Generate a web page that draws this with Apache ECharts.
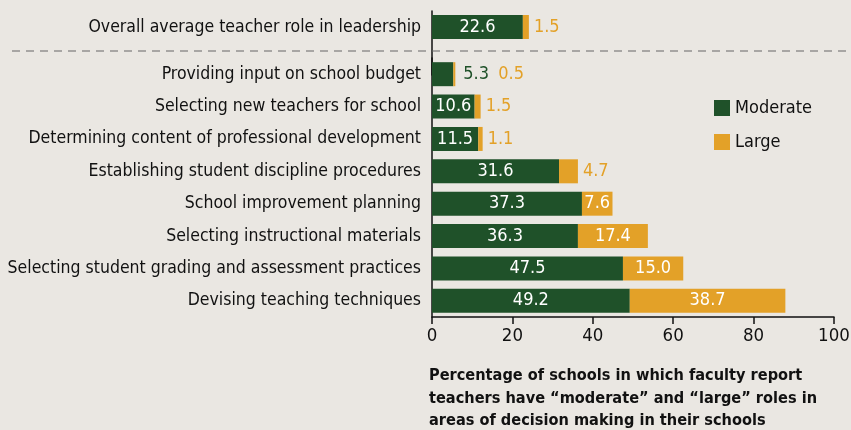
<!DOCTYPE html>
<html>
<head>
<meta charset="utf-8">
<script src="https://cdn.jsdelivr.net/npm/echarts@6/dist/echarts.min.js"></script>
<style>
  html, body { margin: 0; padding: 0; background: #eae7e2; }
  #main { width: 851px; height: 430px; }
</style>
</head>
<body>
<div id="main"></div>
<script>
// overall row (top, above the dashed line)
var topCategory = ['Overall average teacher role in leadership'];
var topModerate = [22.6];
var topLarge = [1.5];

// individual decision areas, top to bottom
var categories = [
    'Providing input on school budget',
    'Selecting new teachers for school',
    'Determining content of professional development',
    'Establishing student discipline procedures',
    'School improvement planning',
    'Selecting instructional materials',
    'Selecting student grading and assessment practices',
    'Devising teaching techniques'
];
var moderate = [5.3, 10.6, 11.5, 31.6, 37.3, 36.3, 47.5, 49.2];
var large = [0.5, 1.5, 1.1, 4.7, 7.6, 17.4, 15.0, 38.7];

var xTicks = [0, 20, 40, 60, 80, 100];

var GREEN = '#1f5129';
var ORANGE = '#e3a128';
var FONT = "'DejaVu Sans Condensed', 'DejaVu Sans', sans-serif";
var PX = 402 / 100;   // pixels per percent point

function fmt(p) { return p.value.toFixed(1); }

// labels sit inside the bar when it is wide enough, otherwise to the right
function modItems(mods, larges) {
    return mods.map(function (v, i) {
        if (v >= 10) {
            return {value: v, label: {show: true, position: 'inside', color: '#fff'}};
        }
        return {value: v, label: {show: true, position: 'right', color: GREEN,
            distance: larges[i] * PX + 8}};
    });
}
function largeItems(mods, larges) {
    return larges.map(function (v, i) {
        if (v >= 7) {
            return {value: v, label: {show: true, position: 'inside', color: '#fff'}};
        }
        var d = mods[i] < 10 ? 43 : 5;
        return {value: v, label: {show: true, position: 'right', color: ORANGE, distance: d}};
    });
}

var myChart = echarts.init(document.getElementById('main'));

var labelStyle = {fontFamily: FONT, fontSize: 18, formatter: fmt};

var option = {
    backgroundColor: '#eae7e2',
    animation: false,
    textStyle: {fontFamily: FONT},
    title: {
        text: 'Percentage of schools in which faculty report\nteachers have \u201cmoderate\u201d and \u201clarge\u201d roles in\nareas of decision making in their schools',
        left: 424,
        top: 360,
        textStyle: {fontFamily: FONT, fontSize: 16.2, fontWeight: 'bold', color: '#111', lineHeight: 22.5}
    },
    legend: {
        data: ['Moderate', 'Large'],
        orient: 'vertical',
        left: 709,
        top: 94,
        itemWidth: 16,
        itemHeight: 16,
        itemGap: 16,
        icon: 'rect',
        textStyle: {fontFamily: FONT, fontSize: 18, color: '#111'}
    },
    grid: [
        {left: 432, width: 402, top: 11, height: 64, outerBoundsMode: 'none'},
        {left: 432, width: 402, top: 58, height: 259, outerBoundsMode: 'none'}
    ],
    xAxis: [
        {gridIndex: 0, type: 'value', min: 0, max: 100, interval: 20, show: false},
        {
            gridIndex: 1, type: 'value', min: 0, max: 100, interval: 20,
            axisLine: {show: true, lineStyle: {color: '#111', width: 1.5}},
            axisTick: {show: true, length: 7, lineStyle: {color: '#111', width: 1.5}},
            axisLabel: {fontFamily: FONT, fontSize: 18.5, color: '#111', margin: 10,
                formatter: function (v) { return xTicks.indexOf(v) >= 0 ? String(v) : ''; }},
            splitLine: {show: false}
        }
    ],
    yAxis: [
        {
            gridIndex: 0, type: 'category', inverse: true,
            data: topCategory.concat(['']),
            axisLine: {show: true, lineStyle: {color: '#111', width: 1.5}},
            axisTick: {show: false},
            axisLabel: {fontFamily: FONT, fontSize: 17.5, color: '#111', margin: 11}
        },
        {
            gridIndex: 1, type: 'category', inverse: true,
            data: categories,
            axisLine: {show: true, lineStyle: {color: '#111', width: 1.5}},
            axisTick: {show: false},
            axisLabel: {fontFamily: FONT, fontSize: 17.5, color: '#111', margin: 11}
        }
    ],
    series: [
        {
            name: 'Moderate', type: 'bar', stack: 'a', xAxisIndex: 0, yAxisIndex: 0,
            barWidth: 24, itemStyle: {color: GREEN},
            label: labelStyle,
            data: modItems(topModerate, topLarge)
        },
        {
            name: 'Large', type: 'bar', stack: 'a', xAxisIndex: 0, yAxisIndex: 0,
            barWidth: 24, itemStyle: {color: ORANGE},
            label: labelStyle,
            data: largeItems(topModerate, topLarge)
        },
        {
            name: 'Moderate', type: 'bar', stack: 'b', xAxisIndex: 1, yAxisIndex: 1,
            barWidth: 24, itemStyle: {color: GREEN},
            label: labelStyle,
            data: modItems(moderate, large)
        },
        {
            name: 'Large', type: 'bar', stack: 'b', xAxisIndex: 1, yAxisIndex: 1,
            barWidth: 24, itemStyle: {color: ORANGE},
            label: labelStyle,
            data: largeItems(moderate, large)
        }
    ],
    graphic: [
        {
            type: 'line',
            shape: {x1: 12, y1: 51, x2: 851, y2: 51},
            style: {stroke: '#666', lineWidth: 1.2, lineDash: [8, 6]},
            z: 10
        }
    ]
};

myChart.setOption(option);
</script>
</body>
</html>
